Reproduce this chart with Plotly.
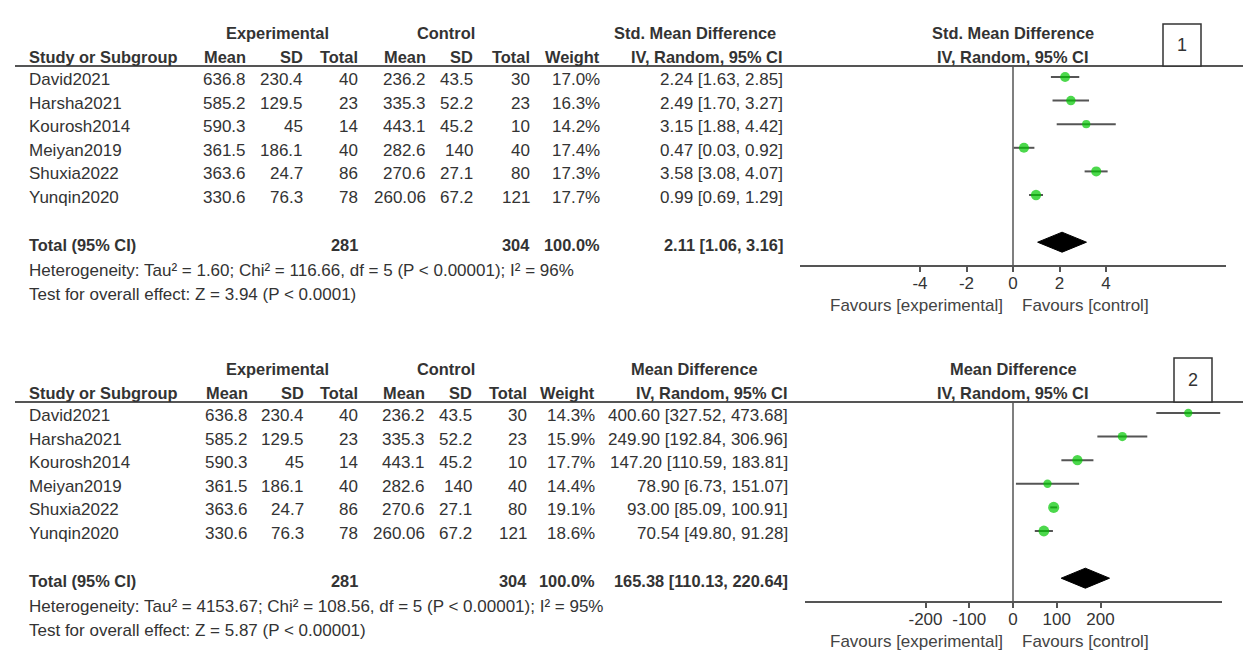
import plotly.graph_objects as go

W, H = 1248, 655

# ---------------- data ----------------
studies = ["David2021", "Harsha2021", "Kourosh2014", "Meiyan2019", "Shuxia2022", "Yunqin2020"]
exp_mean = [636.8, 585.2, 590.3, 361.5, 363.6, 330.6]
exp_sd = [230.4, 129.5, 45, 186.1, 24.7, 76.3]
exp_n = [40, 23, 14, 40, 86, 78]
ctl_mean = [236.2, 335.3, 443.1, 282.6, 270.6, 260.06]
ctl_sd = [43.5, 52.2, 45.2, 140, 27.1, 67.2]
ctl_n = [30, 23, 10, 40, 80, 121]
total_exp = 281
total_ctl = 304

smd_weight = [17.0, 16.3, 14.2, 17.4, 17.3, 17.7]
smd_total_weight = 100.0
smd_est = [2.24, 2.49, 3.15, 0.47, 3.58, 0.99]
smd_lo = [1.63, 1.70, 1.88, 0.03, 3.08, 0.69]
smd_hi = [2.85, 3.27, 4.42, 0.92, 4.07, 1.29]
smd_total = [2.11, 1.06, 3.16]
smd_ticks = [-4, -2, 0, 2, 4]
smd_het = "Heterogeneity: Tau² = 1.60; Chi² = 116.66, df = 5 (P &lt; 0.00001); I² = 96%"
smd_test = "Test for overall effect: Z = 3.94 (P &lt; 0.0001)"

md_weight = [14.3, 15.9, 17.7, 14.4, 19.1, 18.6]
md_total_weight = 100.0
md_est = [400.60, 249.90, 147.20, 78.90, 93.00, 70.54]
md_lo = [327.52, 192.84, 110.59, 6.73, 85.09, 49.80]
md_hi = [473.68, 306.96, 183.81, 151.07, 100.91, 91.28]
md_total = [165.38, 110.13, 220.64]
md_ticks = [-200, -100, 0, 100, 200]
md_het = "Heterogeneity: Tau² = 4153.67; Chi² = 108.56, df = 5 (P &lt; 0.00001); I² = 95%"
md_test = "Test for overall effect: Z = 5.87 (P &lt; 0.00001)"

# ---------------- layout constants ----------------
FONT = "Liberation Sans, Arial, sans-serif"
TEXT = "#333333"
LINE = "#555555"
GREEN = "#00c800"
ROW0 = 77          # pixel y of first study row (panel 1)
STEP = 23.6        # pixel row spacing
TOTAL_IDX = 7

panels = [
    dict(dy=0, title="Std. Mean Difference", est=smd_est, lo=smd_lo, hi=smd_hi, w=smd_weight,
         tw=smd_total_weight, total=smd_total, ticks=smd_ticks, het=smd_het, test=smd_test,
         ax_px=(800, 1226), zero_px=1013, unit_px=46.5 / 2, box=(1163, 24, 1201, 66), label="1",
         cols=dict(em=248, esd=305, en=360, cm=428, csd=475, cn=532, wt=602, ci=785),
         head_center=695),
    dict(dy=336, title="Mean Difference", est=md_est, lo=md_lo, hi=md_hi, w=md_weight,
         tw=md_total_weight, total=md_total, ticks=md_ticks, het=md_het, test=md_test,
         ax_px=(805, 1222), zero_px=1013, unit_px=43.75 / 100, box=(1174, 358, 1212, 402), label="2",
         cols=dict(em=250, esd=306, en=360, cm=427, csd=474, cn=529, wt=597, ci=790),
         head_center=694),
]


def px(xp):
    return xp / W


def py(yp):
    return 1 - yp / H


annotations = []
shapes = []


def txt(s, x, y, anchor="left", bold=False, size=17, color=TEXT):
    if bold:
        s = "<b>" + s + "</b>"
    annotations.append(dict(text=s, x=px(x), y=py(y), xref="paper", yref="paper",
                            xanchor=anchor, yanchor="middle", showarrow=False,
                            font=dict(family=FONT, size=size, color=color)))


fig = go.Figure()
layout_axes = {}

for k, p in enumerate(panels):
    dy = p["dy"]
    xa = "x" if k == 0 else "x2"
    ya = "y" if k == 0 else "y2"
    head_line = 66 + dy
    axis_line = 265 + dy
    c = p["cols"]
    HB = 16.4

    # header texts
    txt("Experimental", 277, 33 + dy, "center", True, HB)
    txt("Control", 446, 33 + dy, "center", True, HB)
    txt(p["title"], p["head_center"], 33 + dy, "center", True, HB)
    txt(p["title"], 1013, 33 + dy, "center", True, HB)
    txt("Study or Subgroup", 27, 57 + dy, "left", True, HB)
    for key, lab in [("em", "Mean"), ("esd", "SD"), ("en", "Total"), ("cm", "Mean"),
                     ("csd", "SD"), ("cn", "Total"), ("wt", "Weight"), ("ci", "IV, Random, 95% CI")]:
        txt(lab, c[key], 57 + dy, "right", True, HB)
    txt("IV, Random, 95% CI", 1013, 57 + dy, "center", True, HB)

    # study rows
    for i, s in enumerate(studies):
        ty = ROW0 + dy + i * STEP + 2.5
        txt(s, 27, ty)
        txt(str(exp_mean[i]), c["em"], ty, "right")
        txt(str(exp_sd[i]), c["esd"], ty, "right")
        txt(str(exp_n[i]), c["en"], ty, "right")
        txt(str(ctl_mean[i]), c["cm"], ty, "right")
        txt(str(ctl_sd[i]), c["csd"], ty, "right")
        txt(str(ctl_n[i]), c["cn"], ty, "right")
        txt(f"{p['w'][i]:.1f}%", c["wt"], ty, "right")
        txt(f"{p['est'][i]:.2f} [{p['lo'][i]:.2f}, {p['hi'][i]:.2f}]", c["ci"], ty, "right")

    # total row
    ty = ROW0 + dy + TOTAL_IDX * STEP + 3
    t = p["total"]
    txt("Total (95% CI)", 27, ty, "left", True, HB)
    txt(str(total_exp), c["en"], ty, "right", True, HB)
    txt(str(total_ctl), c["cn"], ty, "right", True, HB)
    txt(f"{p['tw']:.1f}%", c["wt"], ty, "right", True, HB)
    txt(f"{t[0]:.2f} [{t[1]:.2f}, {t[2]:.2f}]", c["ci"], ty, "right", True, HB)
    txt(p["het"], 27, 270 + dy)
    txt(p["test"], 27, 294 + dy)

    # favours labels
    txt("Favours [experimental]", 1005, 305 + dy, "right", color="#444444")
    txt("Favours [control]", 1020, 305 + dy, "left", color="#444444")

    # header line
    shapes.append(dict(type="line", xref="paper", yref="paper", x0=px(15), x1=px(1243),
                       y0=py(head_line), y1=py(head_line), line=dict(color=LINE, width=2)))
    # number box
    bx0, by0, bx1, by1 = p["box"]
    shapes.append(dict(type="rect", xref="paper", yref="paper", x0=px(bx0), x1=px(bx1),
                       y0=py(by1), y1=py(by0), line=dict(color="#333333", width=1.5),
                       fillcolor="white"))
    txt(p["label"], (bx0 + bx1) / 2, (by0 + by1) / 2, "center", False, 18)

    # axis geometry
    a0, a1 = p["ax_px"]
    u = p["unit_px"]
    xr = [(a0 - p["zero_px"]) / u, (a1 - p["zero_px"]) / u]
    yr = [(axis_line - ROW0 - dy) / STEP, (head_line - ROW0 - dy) / STEP]
    xdom = [px(a0), px(a1)]
    ydom = [py(axis_line), py(head_line)]

    ticktext = [str(v) for v in p["ticks"]]
    layout_axes["xaxis" if k == 0 else "xaxis2"] = dict(
        domain=xdom, range=xr, anchor=ya, showgrid=False, zeroline=False,
        showline=True, linecolor=LINE, linewidth=2, ticks="outside", ticklen=5,
        tickwidth=1.5, tickcolor=LINE, tickmode="array", tickvals=p["ticks"],
        ticktext=ticktext, ticklabelstandoff=-3,
        tickfont=dict(family=FONT, size=17, color=TEXT))
    layout_axes["xaxis3" if k == 0 else "xaxis4"] = dict(
        overlaying=xa, anchor=ya, range=xr, showgrid=False, zeroline=False,
        showline=False, ticks="inside", ticklen=6, tickwidth=1.5, tickcolor=LINE,
        tickmode="array", tickvals=p["ticks"], showticklabels=False)
    layout_axes["yaxis" if k == 0 else "yaxis2"] = dict(
        domain=ydom, range=yr, anchor=xa, visible=False)

    # zero line
    shapes.append(dict(type="line", xref=xa, yref=ya + " domain", x0=0, x1=0, y0=0, y1=1,
                       line=dict(color=LINE, width=1.5)))

    # study estimates
    est, lo, hi = p["est"], p["lo"], p["hi"]
    fig.add_trace(go.Scatter(
        x=est, y=list(range(len(studies))), mode="markers", xaxis=xa, yaxis=ya,
        marker=dict(color=GREEN, size=[w * 0.58 for w in p["w"]], symbol="circle",
                    line=dict(width=0)),
        error_x=dict(type="data", symmetric=False,
                     array=[h - e for h, e in zip(hi, est)],
                     arrayminus=[e - l for e, l in zip(est, lo)],
                     color=LINE, thickness=2, width=0),
        cliponaxis=False, showlegend=False, hoverinfo="skip"))

    # pooled diamond
    hh = 10 / STEP
    fig.add_trace(go.Scatter(
        x=[t[1], t[0], t[2], t[0], t[1]],
        y=[TOTAL_IDX, TOTAL_IDX - hh, TOTAL_IDX, TOTAL_IDX + hh, TOTAL_IDX],
        mode="lines", fill="toself", fillcolor="black", line=dict(color="black", width=1),
        xaxis=xa, yaxis=ya, showlegend=False, hoverinfo="skip"))

fig.update_layout(
    width=W, height=H, margin=dict(l=0, r=0, t=0, b=0),
    paper_bgcolor="white", plot_bgcolor="rgba(0,0,0,0)",
    annotations=annotations, shapes=shapes, showlegend=False,
    font=dict(family=FONT, size=17, color=TEXT),
    **layout_axes)

fig.write_html("out.html", config={"displayModeBar": False},
               post_script="document.body.style.margin='0px';document.body.style.overflow='hidden';")
